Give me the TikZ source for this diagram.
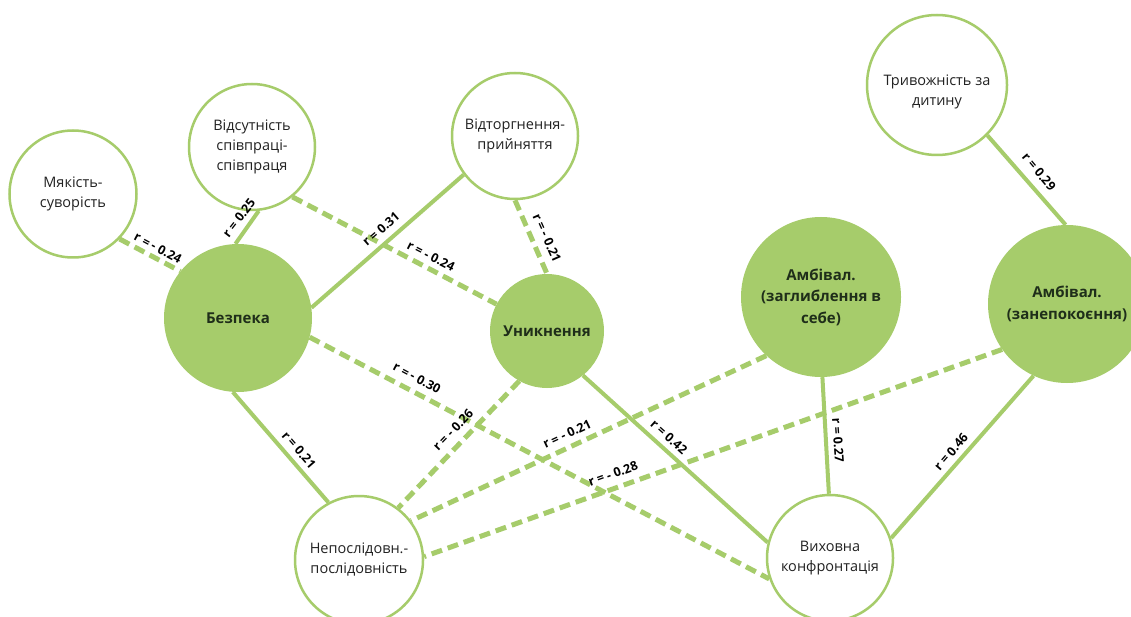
\documentclass[tikz,border=0pt]{standalone}
\usepackage{fontspec}
\setmainfont{Open Sans}
\definecolor{gr}{HTML}{A6CC6B}
\definecolor{dk}{HTML}{1F2E1A}
\definecolor{tx}{HTML}{222222}
\begin{document}
\begin{tikzpicture}[x=1pt,y=-1pt,
 wtext/.style={align=center, font=\fontsize{14.5}{20}\selectfont, text=tx, inner sep=0pt},
 wnode/.style={circle, draw=gr, line width=2.5pt, fill=white, inner sep=0pt, wtext},
 gnode/.style={circle, fill=gr, draw=none, inner sep=0pt, align=center, font=\bfseries\fontsize{15}{21.5}\selectfont, text=dk},
 posline/.style={draw=gr, line width=4pt},
 negline/.style={draw=gr, line width=5pt, dash pattern=on 11pt off 6pt},
 lbl/.style={font=\bfseries\fontsize{12.5}{13}\selectfont, inner sep=0pt, text=black}]
\useasboundingbox (0,0) rectangle (1131,617);
\fill[white] (0,0) rectangle (1131,617);
% nodes
\node[wnode, minimum size=127pt] (mya) at (73,194) {Мякість-\\суворість};
\node[wnode, minimum size=126pt] (vid) at (252,147) {Відсутність\\співпраці-\\співпраця};
\node[wnode, minimum size=126pt] (vidt) at (515,136) {Відторгнення-\\прийняття};
\node[wnode, minimum size=140pt, label={[wtext, yshift=-7pt]center:Тривожність за\\дитину}] (tryv) at (937,85) {};
\node[gnode, minimum size=148pt] (bez) at (238,318) {Безпека};
\node[gnode, minimum size=114pt] (unyk) at (547,331) {Уникнення};
\node[gnode, minimum size=160pt] (amb1) at (821,297) {Амбівал.\\(заглиблення в\\себе)};
\node[gnode, minimum size=158pt] (amb2) at (1067,304) {Амбівал.\\(занепокоєння)};
\node[wnode, minimum size=128pt] (nep) at (359,560) {Непослідовн.-\\послідовність};
\node[wnode, minimum size=126pt] (vyh) at (830,558) {Виховна\\конфронтація};
% connectors
\draw[negline] (mya.-44) -- (bez.141);
\draw[posline] (vid.-84) -- (bez.92);
\draw[negline] (vid.-51) -- (unyk.152);
\draw[posline] (vidt.217) -- (bez.8);
\draw[negline] (vidt.-90) -- (unyk.90);
\draw[posline] (tryv.-45) -- (amb2.91);
\draw[posline] (bez.-94) -- (nep.118);
\draw[negline] (bez.-15) -- (vyh.199);
\draw[negline] (unyk.-119) -- (nep.53);
\draw[posline] (unyk.-51.5) -- (vyh.166);
\draw[negline] (amb1.-133) -- (nep.37);
\draw[negline] (amb2.-145.5) -- (nep.3);
\draw[posline] (amb1.-89) -- (vyh.91);
\draw[posline] (amb2.-115.6) -- (vyh.18);
% labels
\node[lbl, rotate=-28] (l1) at (158,248) {r = - 0.24};
\node[lbl, rotate=52] (l2) at (239,218) {r = 0.25};
\node[lbl, rotate=-27] (l3) at (431,256) {r = - 0.24};
\node[lbl, rotate=41] (l4) at (381,229) {r = 0.31};
\node[lbl, rotate=-66] (l5) at (547,238) {r = - 0.21};
\node[lbl, rotate=-50] (l6) at (1039,172) {r = 0.29};
\node[lbl, rotate=-49] (l7) at (299,450) {r = 0.21};
\node[lbl, rotate=-28] (l8) at (417,378) {r = - 0.30};
\node[lbl, rotate=46] (l9) at (453,430) {r = - 0.26};
\node[lbl, rotate=25] (l10) at (567,434) {r = - 0.21};
\node[lbl, rotate=20] (l11) at (613,474) {r = - 0.28};
\node[lbl, rotate=-42] (l12) at (669,437) {r = 0.42};
\node[lbl, rotate=-86] (l13) at (838,440) {r = 0.27};
\node[lbl, rotate=49] (l14) at (951,452) {r = 0.46};
\end{tikzpicture}
\end{document}
